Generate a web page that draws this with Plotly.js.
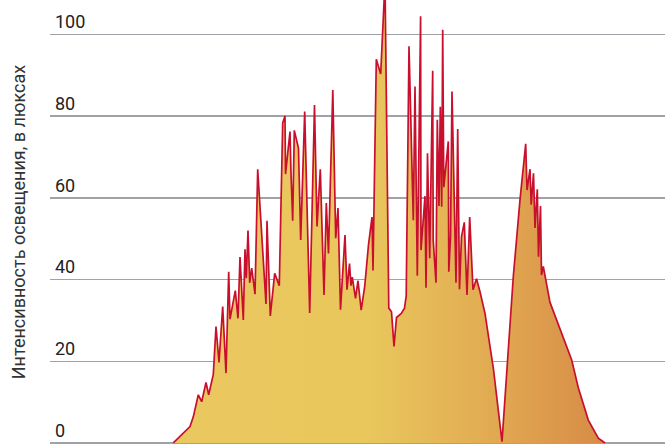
<!DOCTYPE html>
<html>
<head>
<meta charset="utf-8">
<script src="https://cdn.plot.ly/plotly-3.0.1.min.js"></script>
<style>html,body{margin:0;padding:0;background:#fff;}#chart{width:665px;height:444px;}</style>
</head>
<body>
<div id="chart"></div>
<script>
// sample positions (arbitrary time units along the horizontal axis)
const samplePos = [173.3,182,190,193.3,198.3,201.7,206,208.7,213.3,216,219,222.7,226,228.7,230,235.3,238,240,243.3,245,
  246.3,248,249.7,251.7,255,257.7,261.7,266,267,270.3,274.7,279.3,282.7,285,285.5,290,291,292.7,294.3,298.5,
  300.7,304.7,309.7,314.5,317,320.3,324,326.3,328.5,332.8,335.7,338,340.5,345,347,349.5,351,352.3,355.5,358,
  361.2,364.7,368.5,372,373,376.3,380.7,385,388.8,391.5,394,396.5,401.3,404.5,406.2,409,413.3,415,417.3,420.6,
  421,425,426,427.5,429.7,432.7,433.2,436,437.3,439,440.3,441.7,442.7,443.8,448.3,448.8,450.5,452,456,457.7,
  459.5,461.5,464.3,467,469.7,473,476.5,480,485,493.5,502,507,513.3,520,525.7,527,530,531.2,533.5,535,
  537.3,538.5,540.5,541.5,543.3,550,558.3,566.7,571.7,578.3,588.3,598.3,605];
// illuminance, lux
const lux = [0,2.0,4.0,6.4,11.8,10.1,14.8,11.8,16.8,28.5,19.7,33.4,17.1,41.9,30.3,37.3,30.5,45.5,30.1,47.4,
  40.3,52.0,39.2,42.8,36.4,67.0,51.3,34.0,54.4,31.1,41.5,38.5,78.3,80.0,65.8,76.2,66.0,54.4,76.5,72.1,
  49.7,81.1,31.8,82.7,53.0,67.0,36.2,58.7,46.4,86.4,50.1,57.5,32.6,50.9,37.5,43.9,38.5,40.6,35.4,39.7,
  32.5,38.3,48.5,55.3,42.2,93.9,90.3,113,33.0,32.1,23.6,30.7,31.7,33.0,36.0,97.1,54.5,87.2,40.9,104.4,
  47.2,60.4,38.0,70.9,45.2,91.1,49.7,39.2,79.1,58.0,82.3,57.8,101.1,62.6,73.8,41.9,50.5,86.0,39.2,76.8,
  37.6,50.5,54.0,36.2,55.3,37.5,40.2,37.0,31.7,18.0,0.3,18.0,40.7,59.5,73.2,61.9,67.0,58.3,66.0,52.6,
  62.1,45.6,58.0,41.1,43.2,34.4,29.0,24.0,20.3,13.5,5.6,1.2,0];
const yTicks = [0,20,40,60,80,100];
const yTickText = ['0','20','40','60','80','100'];
const yTitle = 'Интенсивность освещения, в люксах';

const FONT = 'Roboto, "Liberation Sans", sans-serif';

const trace = {
  x: samplePos, y: lux, type: 'scatter', mode: 'lines',
  fill: 'tozeroy',
  fillgradient: {
    type: 'horizontal',
    start: samplePos[0], stop: samplePos[samplePos.length-1],
    colorscale: [[0,'#E9C85F'],[0.45,'#E9C75D'],[0.72,'#E2AC53'],[1,'#D78B46']]
  },
  line: {color: '#C8102E', width: 1.7, shape: 'linear'},
  hoverinfo: 'skip'
};

const layout = {
  width: 665, height: 444,
  margin: {l: 50, r: 0, t: 0, b: 0, pad: 0},
  paper_bgcolor: '#fff', plot_bgcolor: '#fff',
  showlegend: false,
  xaxis: {range: [50, 665], showgrid: false, zeroline: false, showticklabels: false, showline: false, ticks: '', fixedrange: true},
  yaxis: {
    range: [-0.25, 108.4], tickvals: yTicks, ticktext: yTickText,
    showgrid: true, gridcolor: '#9FA3A8', gridwidth: 1.5,
    zeroline: false, showline: false, ticks: '',
    ticklabelposition: 'inside top',
    ticklabelstandoff: 2,
    tickfont: {family: FONT, size: 18, color: '#222'},
    automargin: false,
    title: {text: yTitle, font: {family: FONT, size: 18, color: '#333'}, standoff: 24}
  }
};

Plotly.newPlot('chart', [trace], layout, {displayModeBar: false, staticPlot: true});
</script>
</body>
</html>
